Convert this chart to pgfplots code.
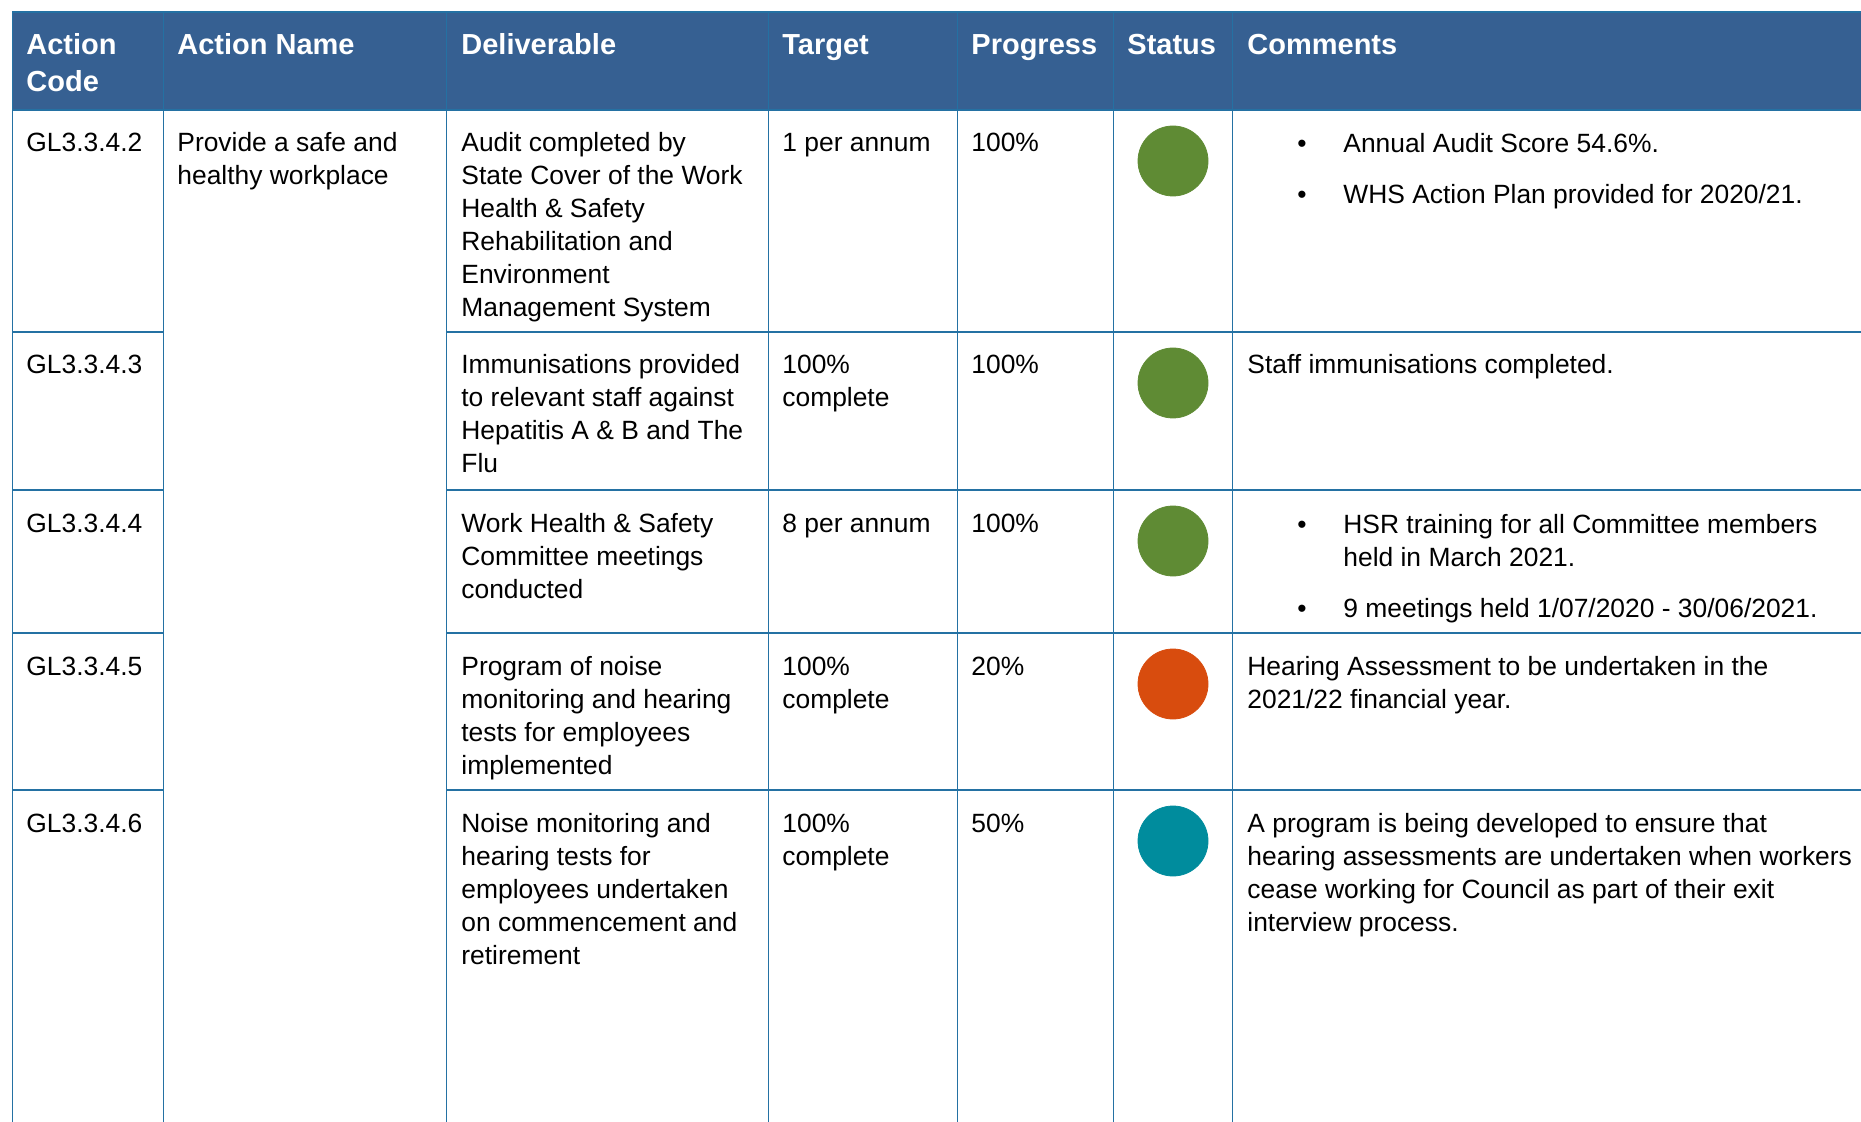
\documentclass[border=0pt]{standalone}
\usepackage{pgfplots}
\pgfplotsset{compat=1.18}
\usepackage{fontspec}
\setmainfont{Liberation Sans}
\definecolor{hdr}{RGB}{54,96,146}
\definecolor{gridc}{RGB}{36,113,163}
\definecolor{sgreen}{RGB}{95,139,52}
\definecolor{sorange}{RGB}{216,76,14}
\definecolor{steal}{RGB}{0,140,157}
\tikzset{
  bt/.style={anchor=base west, inner sep=0pt, font=\fontsize{13.2pt}{16pt}\selectfont, text=black},
  hd/.style={anchor=base west, inner sep=0pt, font=\fontsize{14.5pt}{18pt}\selectfont\bfseries, text=white},
}
\begin{document}
\begin{tikzpicture}
\begin{axis}[
  scale only axis, width=930.5pt, height=561pt,
  xmin=0, xmax=1861, ymin=0, ymax=1122, y dir=reverse,
  hide axis, clip=true,
]
% header band
\addplot[fill=hdr, draw=none] coordinates {(12,12) (1861,12) (1861,110) (12,110)} -- cycle;
% horizontal rules
\addplot[gridc, line width=0.85pt] coordinates {(12,12) (1861,12)};
\addplot[gridc, line width=0.85pt] coordinates {(12,110) (1861,110)};
\addplot[gridc, line width=0.85pt] coordinates {(12,332) (163,332)};
\addplot[gridc, line width=0.85pt] coordinates {(446,332) (1861,332)};
\addplot[gridc, line width=0.85pt] coordinates {(12,490) (163,490)};
\addplot[gridc, line width=0.85pt] coordinates {(446,490) (1861,490)};
\addplot[gridc, line width=0.85pt] coordinates {(12,633) (163,633)};
\addplot[gridc, line width=0.85pt] coordinates {(446,633) (1861,633)};
\addplot[gridc, line width=0.85pt] coordinates {(12,790) (163,790)};
\addplot[gridc, line width=0.85pt] coordinates {(446,790) (1861,790)};
% vertical rules
\addplot[gridc, line width=0.5pt] coordinates {(12,12) (12,1122)};
\addplot[gridc, line width=0.5pt] coordinates {(163,12) (163,1122)};
\addplot[gridc, line width=0.5pt] coordinates {(446,12) (446,1122)};
\addplot[gridc, line width=0.5pt] coordinates {(768,12) (768,1122)};
\addplot[gridc, line width=0.5pt] coordinates {(957,12) (957,1122)};
\addplot[gridc, line width=0.5pt] coordinates {(1113,12) (1113,1122)};
\addplot[gridc, line width=0.5pt] coordinates {(1232,12) (1232,1122)};
% status circles
\addplot[only marks, mark=*, mark size=17.5pt, color=sgreen] coordinates {(1173,161) (1173,383) (1173,541)};
\addplot[only marks, mark=*, mark size=17.5pt, color=sorange] coordinates {(1173,684)};
\addplot[only marks, mark=*, mark size=17.5pt, color=steal] coordinates {(1173,841)};
% header text
\node[hd] at (axis cs:26,55) {Action};
\node[hd] at (axis cs:26,92) {Code};
\node[hd] at (axis cs:177,55) {Action Name};
\node[hd] at (axis cs:461,55) {Deliverable};
\node[hd] at (axis cs:782,55) {Target};
\node[hd] at (axis cs:971,55) {Progress};
\node[hd] at (axis cs:1127,55) {Status};
\node[hd] at (axis cs:1247,55) {Comments};
% row 1
\node[bt] at (axis cs:26,152) {GL3.3.4.2};
\node[bt] at (axis cs:177,152) {Provide a safe and};
\node[bt] at (axis cs:177,185) {healthy workplace};
\node[bt] at (axis cs:461,152) {Audit completed by};
\node[bt] at (axis cs:461,185) {State Cover of the Work};
\node[bt] at (axis cs:461,218) {Health \& Safety};
\node[bt] at (axis cs:461,251) {Rehabilitation and};
\node[bt] at (axis cs:461,284) {Environment};
\node[bt] at (axis cs:461,317) {Management System};
\node[bt] at (axis cs:782,152) {1 per annum};
\node[bt] at (axis cs:971,152) {100\%};
\node[bt] at (axis cs:1297,153) {•};
\node[bt] at (axis cs:1343,153) {Annual Audit Score 54.6\%.};
\node[bt] at (axis cs:1297,204) {•};
\node[bt] at (axis cs:1343,204) {WHS Action Plan provided for 2020/21.};
% row 2
\node[bt] at (axis cs:26,374) {GL3.3.4.3};
\node[bt] at (axis cs:461,374) {Immunisations provided};
\node[bt] at (axis cs:461,407) {to relevant staff against};
\node[bt] at (axis cs:461,440) {Hepatitis A \& B and The};
\node[bt] at (axis cs:461,473) {Flu};
\node[bt] at (axis cs:782,374) {100\%};
\node[bt] at (axis cs:782,407) {complete};
\node[bt] at (axis cs:971,374) {100\%};
\node[bt] at (axis cs:1247,374) {Staff immunisations completed.};
% row 3
\node[bt] at (axis cs:26,532) {GL3.3.4.4};
\node[bt] at (axis cs:461,532) {Work Health \& Safety};
\node[bt] at (axis cs:461,565) {Committee meetings};
\node[bt] at (axis cs:461,598) {conducted};
\node[bt] at (axis cs:782,532) {8 per annum};
\node[bt] at (axis cs:971,532) {100\%};
\node[bt] at (axis cs:1297,533) {•};
\node[bt] at (axis cs:1343,533) {HSR training for all Committee members};
\node[bt] at (axis cs:1343,566) {held in March 2021.};
\node[bt] at (axis cs:1297,617) {•};
\node[bt] at (axis cs:1343,617) {9 meetings held 1/07/2020 - 30/06/2021.};
% row 4
\node[bt] at (axis cs:26,675) {GL3.3.4.5};
\node[bt] at (axis cs:461,675) {Program of noise};
\node[bt] at (axis cs:461,708) {monitoring and hearing};
\node[bt] at (axis cs:461,741) {tests for employees};
\node[bt] at (axis cs:461,774) {implemented};
\node[bt] at (axis cs:782,675) {100\%};
\node[bt] at (axis cs:782,708) {complete};
\node[bt] at (axis cs:971,675) {20\%};
\node[bt] at (axis cs:1247,675) {Hearing Assessment to be undertaken in the};
\node[bt] at (axis cs:1247,708) {2021/22 financial year.};
% row 5
\node[bt] at (axis cs:26,832) {GL3.3.4.6};
\node[bt] at (axis cs:461,832) {Noise monitoring and};
\node[bt] at (axis cs:461,865) {hearing tests for};
\node[bt] at (axis cs:461,898) {employees undertaken};
\node[bt] at (axis cs:461,931) {on commencement and};
\node[bt] at (axis cs:461,964) {retirement};
\node[bt] at (axis cs:782,832) {100\%};
\node[bt] at (axis cs:782,865) {complete};
\node[bt] at (axis cs:971,832) {50\%};
\node[bt] at (axis cs:1247,832) {A program is being developed to ensure that};
\node[bt] at (axis cs:1247,865) {hearing assessments are undertaken when workers};
\node[bt] at (axis cs:1247,898) {cease working for Council as part of their exit};
\node[bt] at (axis cs:1247,931) {interview process.};
\end{axis}
\pgfresetboundingbox
\path[use as bounding box] (current axis.south west) rectangle (current axis.north east);
\end{tikzpicture}
\end{document}
